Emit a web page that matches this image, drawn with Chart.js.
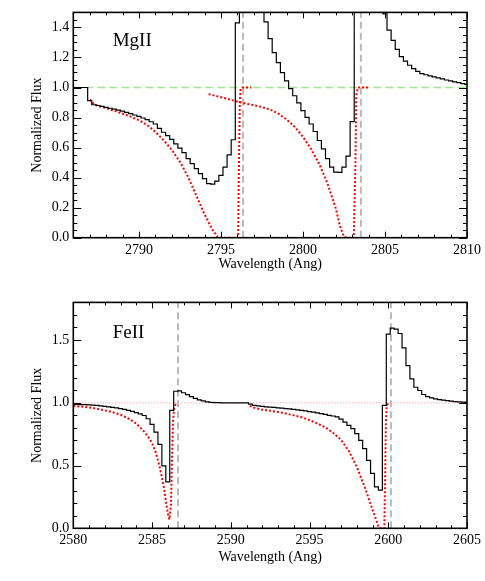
<!DOCTYPE html>
<html>
<head>
<meta charset="utf-8">
<script src="https://cdn.jsdelivr.net/npm/chart.js@4.4.1/dist/chart.umd.min.js"></script>
<style>
  html, body { margin: 0; padding: 0; background: #fff; }
  #wrap { position: relative; width: 485px; height: 581px; }
  canvas { position: absolute; left: 0; }
  #c1 { top: 0; }
  #c2 { top: 290px; }
</style>
</head>
<body>
<div id="wrap">
  <canvas id="c1" width="485" height="290"></canvas>
  <canvas id="c2" width="485" height="291"></canvas>
</div>
<script>
// ---------------- MgII panel data ----------------
const mgStart = 2786.0, binWidth = 0.25;
const fluxMg = [
  1.0, 1.0, 1.0, 1.0, 0.912, 0.885, 0.88, 0.874, 0.868, 0.862,
  0.856, 0.85, 0.843, 0.835, 0.826, 0.817, 0.808, 0.797, 0.786, 0.772,
  0.757, 0.728, 0.702, 0.68, 0.654, 0.625, 0.596, 0.566, 0.526, 0.493,
  0.46, 0.426, 0.393, 0.36, 0.357, 0.377, 0.415, 0.47, 0.552, 0.652,
  1.43, 1.9, 2.2, 2.0, 1.8, 1.65, 1.55, 1.437, 1.325, 1.232,
  1.166, 1.099, 1.044, 0.993, 0.945, 0.897, 0.846, 0.801, 0.757, 0.707,
  0.647, 0.592, 0.526, 0.47, 0.437, 0.435, 0.47, 0.543, 0.773, 2.0,
  2.3, 2.2, 2.0, 1.85, 1.7, 1.58, 1.49, 1.382, 1.314, 1.254,
  1.205, 1.175, 1.148, 1.126, 1.108, 1.093, 1.085, 1.078, 1.071, 1.064,
  1.057, 1.05, 1.044, 1.038, 1.032, 1.026, 1.02
];
const waveMg = fluxMg.map((_, i) => mgStart + binWidth * i);

const modelMg1Wave = [2787.0, 2787.25, 2787.5, 2788.0, 2788.5, 2789.0, 2789.5, 2790.0, 2790.5, 2791.0, 2791.5, 2792.0, 2792.5, 2793.0, 2793.5, 2794.0, 2794.5, 2794.8, 2795.0, 2795.5, 2796.0, 2796.05, 2796.1, 2796.15, 2796.2, 2796.3, 2796.85];
const modelMg1Flux = [0.92, 0.89, 0.878, 0.862, 0.845, 0.826, 0.806, 0.782, 0.75, 0.705, 0.65, 0.585, 0.505, 0.405, 0.28, 0.155, 0.05, 0.005, 0, 0, 0, 0.02, 0.5, 0.9, 0.99, 1.0, 1.0];

const modelMg2Wave = [2794.25, 2795.0, 2795.5, 2796.0, 2796.5, 2797.0, 2797.5, 2798.0, 2798.5, 2799.0, 2799.5, 2800.0, 2800.5, 2801.0, 2801.5, 2802.0, 2802.25, 2802.5, 2802.75, 2803.1, 2803.2, 2803.25, 2803.35, 2804.0];
const modelMg2Flux = [0.956, 0.935, 0.921, 0.906, 0.893, 0.882, 0.87, 0.853, 0.826, 0.788, 0.737, 0.672, 0.59, 0.49, 0.36, 0.195, 0.08, 0.005, 0, 0, 0.5, 0.95, 1.0, 1.0];

const mgLines = [2796.35, 2803.53];
const mgXTicks = [2790, 2795, 2800, 2805, 2810];
const mgYTicks = [0.0, 0.2, 0.4, 0.6, 0.8, 1.0, 1.2, 1.4];

// ---------------- FeII panel data ----------------
const feStart = 2580.0;
const fluxFe = [
  0.988, 0.987, 0.986, 0.985, 0.983, 0.981, 0.979, 0.976, 0.972, 0.968,
  0.964, 0.959, 0.954, 0.947, 0.94, 0.931, 0.922, 0.911, 0.899, 0.873,
  0.828, 0.767, 0.669, 0.497, 0.37, 0.939, 1.092, 1.095, 1.08, 1.065,
  1.05, 1.036, 1.024, 1.015, 1.008, 1.004, 1.002, 1.001, 1.0, 1.0,
  1.0, 1.0, 1.0, 1.0, 1.0, 0.99, 0.979, 0.975, 0.971, 0.968,
  0.966, 0.963, 0.96, 0.957, 0.954, 0.951, 0.948, 0.944, 0.94, 0.935,
  0.93, 0.925, 0.92, 0.914, 0.907, 0.9, 0.895, 0.888, 0.87, 0.846,
  0.82, 0.794, 0.754, 0.701, 0.635, 0.542, 0.437, 0.33, 0.304, 0.979,
  1.548, 1.595, 1.587, 1.552, 1.437, 1.296, 1.19, 1.124, 1.098, 1.066,
  1.05, 1.04, 1.032, 1.026, 1.021, 1.017, 1.013, 1.01, 1.008, 1.006,
  1.004
];
const waveFe = fluxFe.map((_, i) => feStart + binWidth * i);

const modelFe1Wave = [2580.0, 2580.5, 2581.0, 2581.5, 2582.0, 2582.5, 2583.0, 2583.5, 2584.0, 2584.5, 2584.75, 2585.0, 2585.25, 2585.5, 2585.75, 2585.9, 2586.0, 2586.1, 2586.2, 2586.27, 2586.33, 2586.4, 2586.5, 2586.6];
const modelFe1Flux = [0.975, 0.97, 0.963, 0.953, 0.94, 0.925, 0.905, 0.875, 0.835, 0.77, 0.73, 0.68, 0.6, 0.48, 0.33, 0.2, 0.12, 0.07, 0.18, 0.55, 0.85, 0.95, 0.99, 1.0];

const modelFe2Wave = [2591.2, 2591.5, 2592.0, 2592.5, 2593.0, 2593.5, 2594.0, 2594.5, 2595.0, 2595.5, 2596.0, 2596.5, 2597.0, 2597.5, 2598.0, 2598.5, 2599.0, 2599.25, 2599.4, 2599.5, 2599.75, 2599.8, 2599.85, 2599.9, 2600.0];
const modelFe2Flux = [0.975, 0.96, 0.945, 0.937, 0.927, 0.915, 0.9, 0.885, 0.862, 0.835, 0.805, 0.76, 0.705, 0.615, 0.49, 0.33, 0.15, 0.06, 0.005, 0, 0, 0.4, 0.85, 0.97, 1.0];

const feLines = [2586.65, 2600.17];
const feXTicks = [2580, 2585, 2590, 2595, 2600, 2605];
const feYTicks = [0.0, 0.5, 1.0, 1.5];

// ---------------- helpers ----------------
Chart.defaults.font.family = '"Liberation Serif", "Times New Roman", serif';
Chart.defaults.font.size = 14;
Chart.defaults.color = '#000';

const pts = (xs, ys) => xs.map((x, i) => ({x, y: ys[i]}));
const range = (a, b, s) => { const r = []; for (let v = a; v <= b + 1e-9; v += s) r.push(+v.toFixed(4)); return r; };

const frameTicks = {
  id: 'frameTicks',
  afterDatasetsDraw(chart, args, o) {
    const {ctx, chartArea: a, scales: {x, y}} = chart;
    ctx.save();
    ctx.strokeStyle = '#000';
    ctx.lineWidth = 1;
    ctx.beginPath();
    const vx = (vals, len) => vals.forEach(v => {
      const p = Math.round(x.getPixelForValue(v)) + 0.5;
      ctx.moveTo(p, a.bottom); ctx.lineTo(p, a.bottom - len);
      ctx.moveTo(p, a.top); ctx.lineTo(p, a.top + len);
    });
    const vy = (vals, len) => vals.forEach(v => {
      const p = Math.round(y.getPixelForValue(v)) + 0.5;
      ctx.moveTo(a.left, p); ctx.lineTo(a.left + len, p);
      ctx.moveTo(a.right, p); ctx.lineTo(a.right - len, p);
    });
    vx(o.xMinor, 3); vx(o.xMajor, 6);
    vy(o.yMinor, 4); vy(o.yMajor, 8);
    ctx.stroke();
    ctx.lineWidth = 1.6;
    ctx.strokeRect(a.left, a.top, a.right - a.left, a.bottom - a.top);
    ctx.fillStyle = '#000';
    ctx.font = '19px "Liberation Serif", "Times New Roman", serif';
    ctx.textAlign = 'left';
    ctx.textBaseline = 'alphabetic';
    ctx.fillText(o.label, x.getPixelForValue(o.labelX), y.getPixelForValue(o.labelY));
    ctx.restore();
  }
};

function makeChart(id, cfg) {
  const datasets = [
    {data: pts(cfg.wave, cfg.flux), borderColor: '#000', borderWidth: 1.2, stepped: 'middle', order: 0},
    ...cfg.models.map(m => ({data: pts(m[0], m[1]), borderColor: '#ff0000', borderWidth: 2, borderDash: [2, 2], order: 1})),
    {data: [{x: cfg.xmin, y: 1}, {x: cfg.xmax, y: 1}], borderColor: cfg.refColor, borderWidth: cfg.refWidth, borderDash: cfg.refDash, order: 3},
    ...cfg.lines.map(l => ({data: [{x: l, y: 0}, {x: l, y: cfg.ymax}], borderColor: 'rgb(185,185,185)', borderWidth: 2, borderDash: [7, 4], order: 2}))
  ];
  return new Chart(document.getElementById(id), {
    type: 'line',
    data: {datasets},
    plugins: [frameTicks],
    options: {
      responsive: false,
      animation: false,
      devicePixelRatio: 1,
      layout: {padding: {left: 0, right: 15, top: cfg.top, bottom: 0}},
      elements: {point: {radius: 0}, line: {tension: 0}},
      plugins: {
        legend: {display: false}, tooltip: {enabled: false},
        frameTicks: {
          xMajor: cfg.xTicks, xMinor: cfg.xMinor, yMajor: cfg.yTicks, yMinor: cfg.yMinor,
          label: cfg.label, labelX: cfg.labelX, labelY: cfg.labelY
        }
      },
      scales: {
        x: {
          type: 'linear', min: cfg.xmin, max: cfg.xmax,
          grid: {display: false, drawTicks: false}, border: {display: false},
          afterBuildTicks: s => { s.ticks = cfg.xTicks.map(v => ({value: v})); },
          afterFit: s => { s.height = cfg.xh; },
          ticks: {padding: 4, maxRotation: 0, autoSkip: false, callback: v => String(v)},
          title: {display: true, text: 'Wavelength (Ang)', font: {size: 14}, padding: {top: 0, bottom: cfg.xtp}}
        },
        y: {
          type: 'linear', min: 0, max: cfg.ymax,
          grid: {display: false, drawTicks: false}, border: {display: false},
          afterBuildTicks: s => { s.ticks = cfg.yTicks.map(v => ({value: v})); },
          afterFit: s => { s.width = 73.3; },
          ticks: {padding: 4, autoSkip: false, callback: v => Number(v).toFixed(1)},
          title: {display: true, text: 'Normalized Flux', font: {size: 14}, padding: {top: 28.6, bottom: 0}}
        }
      }
    }
  });
}

makeChart('c1', {
  wave: waveMg, flux: fluxMg,
  models: [[modelMg1Wave, modelMg1Flux], [modelMg2Wave, modelMg2Flux]],
  lines: mgLines, xmin: 2786, xmax: 2810, ymax: 1.5,
  refColor: 'rgb(160,230,150)', refWidth: 1.5, refDash: [8, 4],
  xTicks: mgXTicks, xMinor: range(2787, 2809, 1), yTicks: mgYTicks, yMinor: range(0.05, 1.45, 0.05),
  label: 'MgII', labelX: 2788.4, labelY: 1.276,
  top: 11, xh: 52.3, xtp: 17.6
});

makeChart('c2', {
  wave: waveFe, flux: fluxFe,
  models: [[modelFe1Wave, modelFe1Flux], [modelFe2Wave, modelFe2Flux]],
  lines: feLines, xmin: 2580, xmax: 2605, ymax: 1.8,
  refColor: 'rgba(255,90,90,0.75)', refWidth: 1, refDash: [1, 2],
  xTicks: feXTicks, xMinor: range(2581, 2604, 1), yTicks: feYTicks, yMinor: range(0.1, 1.7, 0.1),
  label: 'FeII', labelX: 2582.5, labelY: 1.518,
  top: 11.7, xh: 52.7, xtp: 15.6
});
</script>
</body>
</html>
